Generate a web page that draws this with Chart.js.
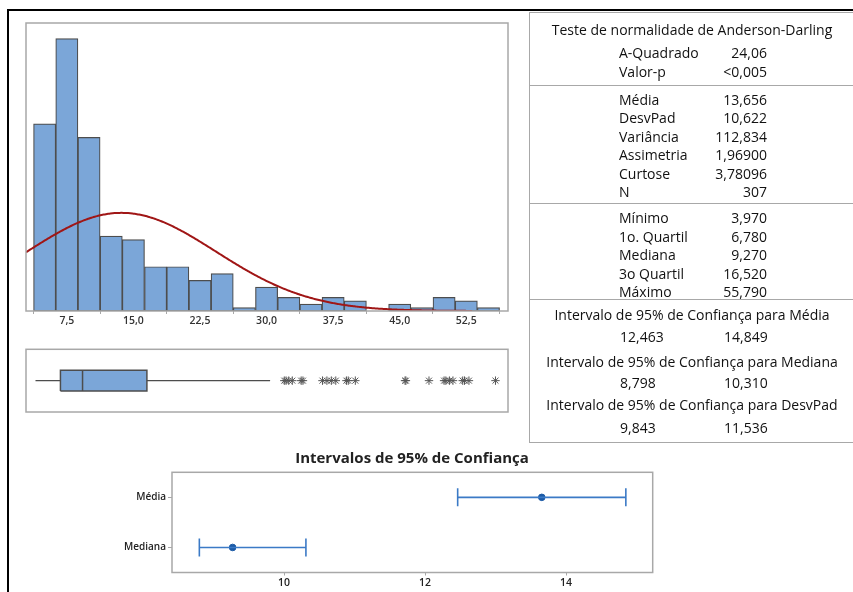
<!DOCTYPE html>
<html lang="pt">
<head>
<meta charset="utf-8">
<script src="https://cdn.jsdelivr.net/npm/chart.js@4.4.1/dist/chart.umd.min.js"></script>
<style>
  html, body { margin: 0; padding: 0; background: #fff; }
  body { width: 853px; height: 592px; position: relative; overflow: hidden;
         font-family: "Open Sans", "Noto Sans", sans-serif; color: #111; }
  canvas { position: absolute; }
  .frame { position: absolute; left: 7px; top: 9px; width: 1000px; height: 800px;
           border-left: 2px solid #000; border-top: 2px solid #000; }
  .panel { position: absolute; left: 529px; top: 12px; width: 400px; height: 429px;
           border: 1.5px solid #a8a8a8; }
  .sep { position: absolute; left: 529px; width: 400px; height: 0; border-top: 1.5px solid #a8a8a8; }
  .t { position: absolute; font-size: 14px; line-height: 16px; white-space: nowrap; }
  .c { transform: translateX(-50%); }
  .r { transform: translateX(-100%); }
  .ttl { position: absolute; font-size: 15px; font-weight: bold; line-height: 18px;
         white-space: nowrap; transform: translateX(-50%); color: #222; }
</style>
</head>
<body>
<div class="frame"></div>

<canvas id="hist" width="520" height="330" style="left:0;top:0"></canvas>
<canvas id="box" width="520" height="100" style="left:0;top:330px"></canvas>
<canvas id="ci" width="600" height="152" style="left:100px;top:440px"></canvas>
<div class="ttl" id="ciTitle" style="left:412px;top:448px"></div>

<div class="panel"></div>
<div id="summary"></div>

<script>
// ---- Data ----
const binCenters = [5, 7.5, 10, 12.5, 15, 17.5, 20, 22.5, 25, 27.5, 30, 32.5, 35, 37.5, 40, 42.5, 45, 47.5, 50, 52.5, 55];
const binCounts  = [55, 80, 51, 22, 21, 13, 13, 9, 11, 1, 7, 4, 2, 4, 3, 0, 2, 1, 4, 3, 1];
const histTicks  = [7.5, 15, 22.5, 30, 37.5, 45, 52.5];

const sampleN   = 307;
const sampleMean = 13.656;
const sampleSd   = 10.622;
const binWidth   = 2.5;
const curveRange = [2.9, 53.2];

const boxMin = 3.970, boxQ1 = 6.780, boxMedian = 9.270, boxQ3 = 16.520, boxUpperWhisker = 30.4;
const outliers = [32.0, 32.2, 32.5, 32.9, 33.9, 34.1, 36.3, 36.8, 37.3, 37.8, 39.0, 39.2, 40.0,
                  45.6, 45.7, 48.3, 50.0, 50.2, 50.6, 51.0, 52.1, 52.3, 52.8, 55.79];

const ciNames = ['Média', 'Mediana'];
const ciLow   = [12.463, 8.798];
const ciHigh  = [14.849, 10.310];
const ciEst   = [13.656, 9.270];
const ciTicks = [10, 12, 14];
const ciTitle = 'Intervalos de 95% de Confiança';

const adTitle = 'Teste de normalidade de Anderson-Darling';
const adRows = [['A-Quadrado', '24,06'], ['Valor-p', '<0,005']];
const momentRows = [['Média', '13,656'], ['DesvPad', '10,622'], ['Variância', '112,834'],
                    ['Assimetria', '1,96900'], ['Curtose', '3,78096'], ['N', '307']];
const quantileRows = [['Mínimo', '3,970'], ['1o. Quartil', '6,780'], ['Mediana', '9,270'],
                      ['3o Quartil', '16,520'], ['Máximo', '55,790']];
const intervalRows = [
  ['Intervalo de 95% de Confiança para Média', '12,463', '14,849'],
  ['Intervalo de 95% de Confiança  para Mediana', '8,798', '10,310'],
  ['Intervalo de 95% de Confiança  para DesvPad', '9,843', '11,536']
];

// ---- Shared styles ----
const BAR_FILL = '#7ba6d8';
const BAR_EDGE = '#4d4d4d';
const FRAME = '#a8a8a8';
const CURVE = '#a01616';
const CI_LINE = '#3b7ac6';
const CI_DOT = '#1b5aa6';
const tickFont = { family: 'Open Sans', size: 10.5, weight: '600' };
const commaNum = v => String(v.toFixed(1)).replace('.', ',');

// draws the grey rectangle around a plot area
const plotFrame = {
  id: 'plotFrame',
  afterDatasetsDraw(chart) {
    const a = chart.chartArea, ctx = chart.ctx;
    ctx.save();
    ctx.strokeStyle = FRAME;
    ctx.lineWidth = 1.5;
    ctx.strokeRect(a.left, a.top, a.right - a.left, a.bottom - a.top);
    ctx.restore();
  }
};

// ---- Histogram with fitted normal curve ----
const normalPoints = [];
for (let x = curveRange[0]; x <= curveRange[1] + 1e-9; x += 0.25) {
  const z = (x - sampleMean) / sampleSd;
  const y = sampleN * binWidth / (sampleSd * Math.sqrt(2 * Math.PI)) * Math.exp(-0.5 * z * z);
  normalPoints.push({ x, y });
}

new Chart(document.getElementById('hist'), {
  type: 'bar',
  data: {
    datasets: [
      {
        type: 'line', data: normalPoints, borderColor: CURVE, borderWidth: 2,
        pointRadius: 0, tension: 0.3, fill: false
      },
      {
        type: 'bar',
        data: binCenters.map((c, i) => ({ x: c, y: binCounts[i] })),
        backgroundColor: BAR_FILL, borderColor: BAR_EDGE, borderWidth: 1.2,
        borderSkipped: false, barPercentage: 1, categoryPercentage: 1
      }
    ]
  },
  options: {
    responsive: false, animation: false, devicePixelRatio: 1,
    layout: { padding: { left: 26, right: 12, top: 23, bottom: 0 } },
    plugins: { legend: { display: false }, tooltip: { enabled: false } },
    scales: {
      x: {
        type: 'linear', min: 2.9, max: 57.2, offset: false,
        afterBuildTicks: s => { s.ticks = histTicks.map(v => ({ value: v })); },
        afterFit: s => { s.height = 19; },
        ticks: { callback: v => commaNum(v), font: tickFont, color: '#333', padding: 1, maxRotation: 0 },
        grid: { drawOnChartArea: false, drawTicks: true, tickLength: 3, color: FRAME },
        border: { display: false }
      },
      y: { display: false, min: 0, max: 84.6 }
    }
  },
  plugins: [plotFrame]
});

// ---- Boxplot ----
const H = 0.33;
const seg = pts => pts.map(p => ({ x: p[0], y: p[1] }));
const lineDs = (pts, extra) => Object.assign({
  data: seg(pts), showLine: true, pointRadius: 0, borderColor: BAR_EDGE, borderWidth: 1.2, fill: false
}, extra || {});

new Chart(document.getElementById('box'), {
  type: 'scatter',
  data: {
    datasets: [
      lineDs([[boxMedian, -H], [boxMedian, H]], { borderWidth: 1.5 }),
      lineDs([[boxQ1, -H], [boxQ3, -H], [boxQ3, H], [boxQ1, H], [boxQ1, -H]], { borderWidth: 1.5 }),
      lineDs([[boxQ1, H], [boxQ3, H]], { borderWidth: 0, fill: '+1', backgroundColor: BAR_FILL }),
      lineDs([[boxQ1, -H], [boxQ3, -H]], { borderWidth: 0 }),
      lineDs([[boxMin, 0], [boxQ1, 0]]),
      lineDs([[boxQ3, 0], [boxUpperWhisker, 0]]),
      {
        data: outliers.map(v => ({ x: v, y: 0 })), pointStyle: 'star', pointRadius: 4.2,
        borderColor: '#555', borderWidth: 1, backgroundColor: '#555'
      }
    ]
  },
  options: {
    responsive: false, animation: false, devicePixelRatio: 1,
    layout: { padding: { left: 26, right: 12, top: 19.3, bottom: 18 } },
    plugins: { legend: { display: false }, tooltip: { enabled: false } },
    scales: {
      x: { type: 'linear', display: false, min: 2.9, max: 57.2 },
      y: { type: 'linear', display: false, min: -1, max: 1 }
    }
  },
  plugins: [plotFrame]
});

// ---- Confidence intervals ----
const CAP = 0.18;
const ciData = [];
ciNames.forEach((name, i) => {
  const y = ciNames.length - 1 - i;
  ciData.push(lineDs([[ciLow[i], y], [ciHigh[i], y]], { borderColor: CI_LINE, borderWidth: 1.6 }));
  ciData.push(lineDs([[ciLow[i], y - CAP], [ciLow[i], y + CAP]], { borderColor: CI_LINE, borderWidth: 1.6 }));
  ciData.push(lineDs([[ciHigh[i], y - CAP], [ciHigh[i], y + CAP]], { borderColor: CI_LINE, borderWidth: 1.6 }));
  ciData.push({
    data: [{ x: ciEst[i], y }], pointStyle: 'circle', pointRadius: 3.3,
    backgroundColor: CI_DOT, borderColor: CI_DOT, borderWidth: 1
  });
});

new Chart(document.getElementById('ci'), {
  type: 'scatter',
  data: { datasets: ciData },
  options: {
    responsive: false, animation: false, devicePixelRatio: 1,
    layout: { padding: { left: 0, right: 47.3, top: 32.3, bottom: 0 } },
    plugins: { legend: { display: false }, tooltip: { enabled: false } },
    scales: {
      x: {
        type: 'linear', min: 8.41, max: 15.23,
        afterBuildTicks: s => { s.ticks = ciTicks.map(v => ({ value: v })); },
        afterFit: s => { s.height = 19.5; },
        ticks: { font: tickFont, color: '#222', padding: 1 },
        grid: { drawOnChartArea: false, drawTicks: true, tickLength: 3, color: FRAME },
        border: { display: false }
      },
      y: {
        type: 'linear', min: -0.5, max: 1.5,
        afterBuildTicks: s => { s.ticks = ciNames.map((n, i) => ({ value: ciNames.length - 1 - i })); },
        afterFit: s => { s.width = 72; },
        ticks: { callback: v => ciNames[ciNames.length - 1 - v], font: { family: 'Open Sans', size: 10, weight: '600' }, color: '#222', padding: 2 },
        grid: { drawOnChartArea: false, drawTicks: true, tickLength: 4, color: FRAME },
        border: { display: false }
      }
    }
  },
  plugins: [plotFrame]
});
document.getElementById('ciTitle').textContent = ciTitle;

// ---- Summary table ----
const summary = document.getElementById('summary');
function put(text, x, yc, cls) {
  const d = document.createElement('div');
  d.className = 't ' + (cls || '');
  d.textContent = text;
  d.style.left = x + 'px';
  d.style.top = (yc - 8) + 'px';
  summary.appendChild(d);
}
function sep(y) {
  const d = document.createElement('div');
  d.className = 'sep';
  d.style.top = y + 'px';
  summary.appendChild(d);
}
const LABEL_X = 619, VALUE_X = 767, CENTER_X = 692;
put(adTitle, CENTER_X, 29.5, 'c');
adRows.forEach((r, i) => { put(r[0], LABEL_X, 52.7 + i * 19, ''); put(r[1], VALUE_X, 52.7 + i * 19, 'r'); });
sep(85);
momentRows.forEach((r, i) => { put(r[0], LABEL_X, 100 + i * 18.4, ''); put(r[1], VALUE_X, 100 + i * 18.4, 'r'); });
sep(203);
quantileRows.forEach((r, i) => { put(r[0], LABEL_X, 218.3 + i * 18.5, ''); put(r[1], VALUE_X, 218.3 + i * 18.5, 'r'); });
sep(299);
const headY = [315, 361.7, 405], valY = [336.7, 383.3, 428.3];
intervalRows.forEach((r, i) => {
  put(r[0], CENTER_X, headY[i], 'c');
  put(r[1], 620, valY[i], '');
  put(r[2], 724, valY[i], '');
});
</script>
</body>
</html>
